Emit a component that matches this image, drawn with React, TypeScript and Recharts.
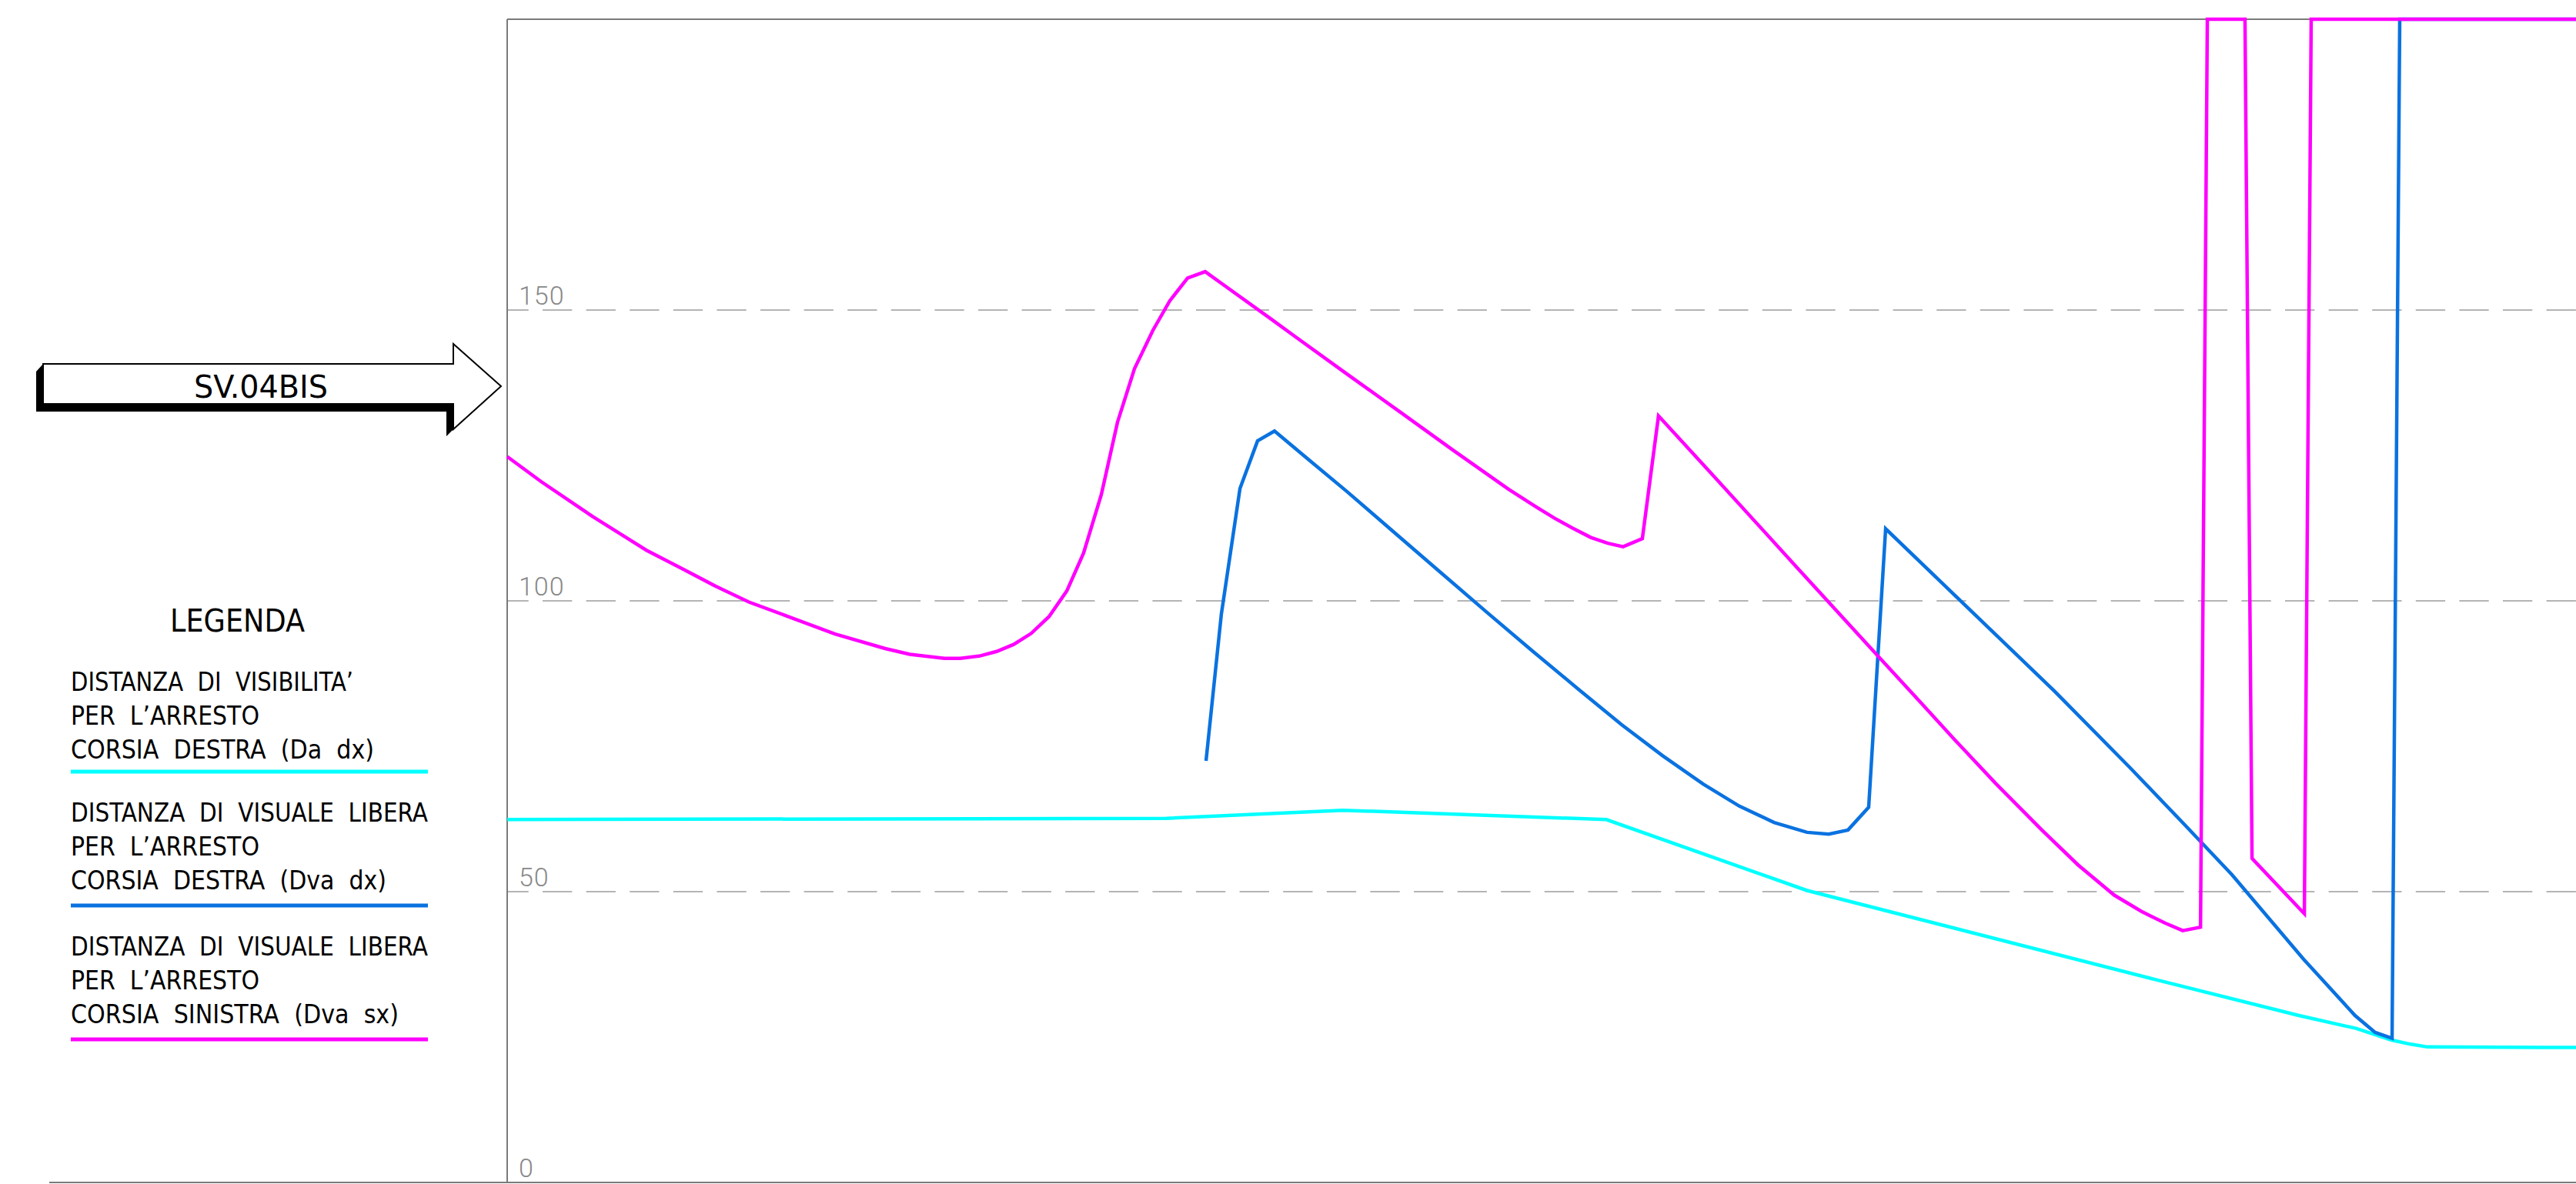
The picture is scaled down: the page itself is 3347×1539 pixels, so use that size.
import React from 'react';
import { LineChart, Line, XAxis, YAxis, ReferenceLine } from 'recharts';

const W = 3347;
const H = 1539;

// progressive along the road (arbitrary units, 0–1000)
const daDxX = [0, 318.5, 404.0, 531.3, 628.3, 796.5, 866.1, 893.6, 910.7, 919.6, 928.2, 1000];
const daDxY = [62.4, 62.6, 64.0, 62.4, 50.2, 34.9, 28.7, 26.5, 24.5, 23.8, 23.3, 23.2];

const dvaDxX = [337.8, 345.2, 354.2, 362.7, 370.9, 387.3, 405.9, 428.0, 450.5, 473.0, 495.5, 517.5, 538.7, 558.4, 578.1, 595.6, 612.4, 628.3, 638.8, 648.1, 658.1, 666.3, 748.1, 784.2, 810.3, 833.7, 868.3, 893.2, 902.9, 911.1, 914.8, 1000];
const dvaDxY = [72.5, 97.7, 119.3, 127.5, 129.2, 124.3, 118.8, 112.0, 105.1, 98.2, 91.4, 84.9, 78.7, 73.4, 68.5, 64.7, 61.9, 60.2, 59.9, 60.6, 64.5, 112.4, 84.4, 71.4, 61.7, 52.9, 38.4, 28.7, 25.8, 24.8, 200, 200];

const dvaSxX = [0, 16.4, 41.3, 58.8, 67.3, 84.8, 100.8, 116.8, 135.0, 158.5, 182.7, 194.6, 211.3, 219.1, 228.1, 236.6, 244.8, 253.3, 261.9, 270.5, 278.6, 287.2, 295.0, 303.2, 312.1, 320.3, 328.9, 337.4, 345.6, 368.7, 381.0, 405.9, 432.3, 457.2, 484.0, 497.2, 506.3, 515.0, 523.8, 532.0, 539.4, 548.7, 556.5, 581.8, 624.3, 662.6, 683.8, 700.0, 719.5, 741.8, 759.3, 776.8, 790.0, 801.3, 809.9, 818.5, 821.8, 840.0, 843.4, 868.7, 872.0, 1000];
const dvaSxY = [124.8, 120.5, 114.5, 110.6, 108.7, 105.5, 102.5, 99.8, 97.4, 94.3, 91.8, 90.8, 90.1, 90.1, 90.5, 91.3, 92.5, 94.4, 97.3, 101.7, 108.2, 118.3, 130.7, 139.9, 146.5, 151.6, 155.5, 156.6, 154.5, 148.6, 145.4, 139.0, 132.3, 125.9, 119.2, 116.2, 114.2, 112.5, 110.9, 109.9, 109.3, 110.7, 131.8, 122.0, 105.4, 90.5, 82.3, 76.0, 68.6, 60.6, 54.6, 49.4, 46.6, 44.6, 43.3, 43.9, 200, 200, 55.7, 46.2, 200, 200];

const yTicks = [0, 50, 100, 150];
const yMax = 200;

const sectionLabel = 'SV.04BIS';
const legendTitle = 'LEGENDA';
const legendLabels = [
  ['DISTANZA  DI  VISIBILITA\u2019', 'PER  L\u2019ARRESTO', 'CORSIA  DESTRA  (Da  dx)'],
  ['DISTANZA  DI  VISUALE  LIBERA', 'PER  L\u2019ARRESTO', 'CORSIA  DESTRA  (Dva  dx)'],
  ['DISTANZA  DI  VISUALE  LIBERA', 'PER  L\u2019ARRESTO', 'CORSIA  SINISTRA  (Dva  sx)'],
];

const CYAN = '#00ffff';
const BLUE = '#0a72e0';
const MAGENTA = '#ff00ff';
const legendColors = [CYAN, BLUE, MAGENTA];

const zip = (xs: number[], ys: number[]) => xs.map((x, i) => ({ x, y: ys[i] }));
const daDx = zip(daDxX, daDxY);
const dvaDx = zip(dvaDxX, dvaDxY);
const dvaSx = zip(dvaSxX, dvaSxY);

const CAD_FONT = "'Liberation Sans Narrow', 'DejaVu Sans Condensed', 'Liberation Sans', sans-serif";

const TickLabel = (props: any) => {
  const vb = props.viewBox || {};
  const x = (vb.x ?? 0) + 15;
  const y = (vb.y ?? 0) - 7.5;
  return (
    <text x={x} y={y} fill="#888888" fontSize={34} letterSpacing={1} fontFamily="Roboto, 'Liberation Sans', sans-serif" fontWeight={300}>
      {props.txt}
    </text>
  );
};

// text widths measured on the drawing (used for textLength)
const legendWidths = [
  [367, 245, 394],
  [464, 245, 410],
  [464, 245, 426],
];
const blockBaselines = [898, 1068, 1242];
const legendLineY = [1003, 1177, 1351];

const Decorations = () => (
  <svg width={W} height={H} style={{ position: 'absolute', left: 0, top: 0 }}>
    {/* bottom baseline extending left */}
    <line x1={64} y1={1537} x2={W} y2={1537} stroke="#7a7a7a" strokeWidth={2} />
    {/* section arrow */}
    <polygon
      points="56,473 47,483 47,535 580,535 580,567 589,558 589,525 56,525"
      fill="#000"
    />
    <polygon
      points="56,473 589,473 589,447 651,502 589,558 589,525 56,525"
      fill="#fff"
      stroke="#000"
      strokeWidth={2}
      strokeLinejoin="miter"
    />
    <text x={252} y={517} fontSize={41} fontFamily={CAD_FONT} textLength={174} lengthAdjust="spacingAndGlyphs" fill="#000">
      {sectionLabel}
    </text>
    {/* legend */}
    <text x={221} y={821} fontSize={40} fontFamily={CAD_FONT} textLength={175} lengthAdjust="spacingAndGlyphs" fill="#000">
      {legendTitle}
    </text>
    {legendLabels.map((lines, i) => (
      <g key={i}>
        {lines.map((t, j) => (
          <text
            key={j}
            x={92}
            y={blockBaselines[i] + j * 44}
            fontSize={34}
            fontFamily={CAD_FONT}
            textLength={legendWidths[i][j]}
            lengthAdjust="spacingAndGlyphs"
            fill="#000"
            xmlSpace="preserve"
            style={{ whiteSpace: 'pre' }}
          >
            {t}
          </text>
        ))}
        <line x1={92} y1={legendLineY[i]} x2={556} y2={legendLineY[i]} stroke={legendColors[i]} strokeWidth={5} />
      </g>
    ))}
  </svg>
);

export default function App() {
  return (
    <div style={{ position: 'absolute', left: 0, top: 0, width: W, height: H, background: '#fff', overflow: 'hidden' }}>
      <Decorations />
      <div style={{ position: 'absolute', left: 0, top: 0 }}>
        <LineChart width={W} height={H} margin={{ top: 25, right: 0, bottom: 2, left: 659 }}>
          <XAxis type="number" dataKey="x" domain={[0, 1000]} hide />
          <YAxis type="number" dataKey="y" domain={[0, yMax]} hide />
          {yTicks.map((t) =>
            t === 0 ? (
              <ReferenceLine key={t} y={t} stroke="#7a7a7a" strokeWidth={2} label={<TickLabel txt={String(t)} />} />
            ) : (
              <ReferenceLine
                key={t}
                y={t}
                stroke="#b4b4b4"
                strokeWidth={2}
                strokeDasharray="38.3 18.3"
                strokeDashoffset={10.6}
                label={<TickLabel txt={String(t)} />}
              />
            )
          )}
          <ReferenceLine y={yMax} stroke="#7a7a7a" strokeWidth={2} />
          <ReferenceLine x={0} stroke="#7a7a7a" strokeWidth={2} />
          <Line data={daDx} dataKey="y" type="linear" stroke={CYAN} strokeWidth={4.5} dot={false} activeDot={false} isAnimationActive={false} strokeLinejoin="miter" />
          <Line data={dvaDx} dataKey="y" type="linear" stroke={BLUE} strokeWidth={4.5} dot={false} activeDot={false} isAnimationActive={false} strokeLinejoin="miter" />
          <Line data={dvaSx} dataKey="y" type="linear" stroke={MAGENTA} strokeWidth={4.5} dot={false} activeDot={false} isAnimationActive={false} strokeLinejoin="miter" />
        </LineChart>
      </div>
    </div>
  );
}
